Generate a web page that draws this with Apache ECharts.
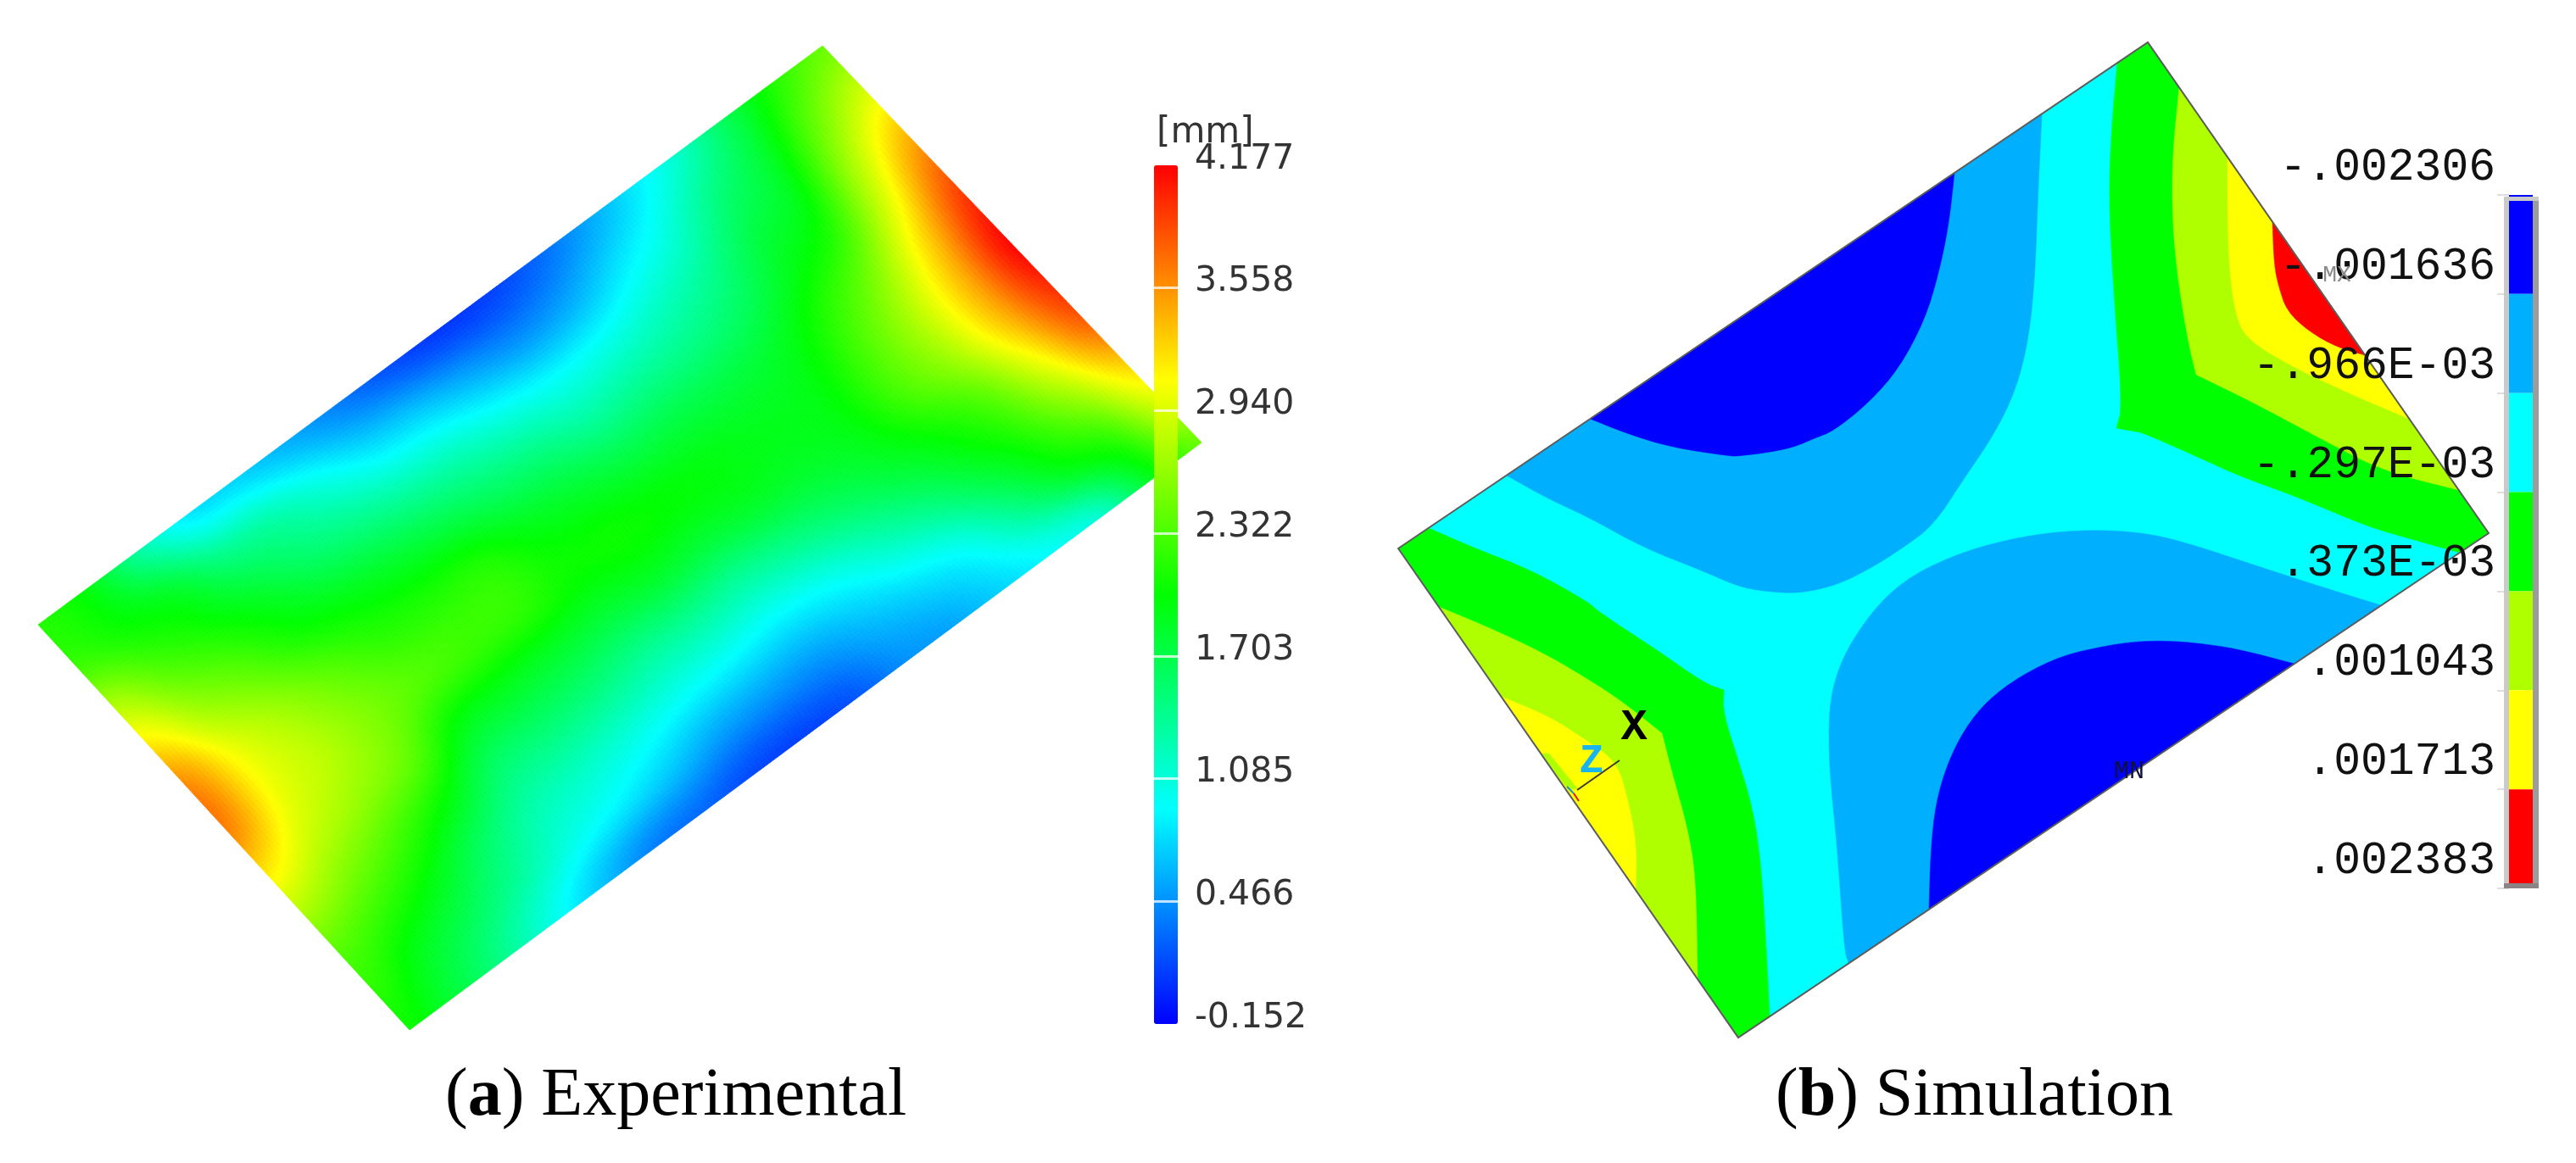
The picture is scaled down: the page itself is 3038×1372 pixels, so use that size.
<!DOCTYPE html>
<html>
<head>
<meta charset="utf-8">
<title>Experimental / Simulation</title>
<style>
	html, body { margin: 0; padding: 0; background: #fff; }
	#main { width: 3038px; height: 1372px; }
</style>
<script src="https://cdn.jsdelivr.net/npm/echarts@6/dist/echarts.min.js"></script>
</head>
<body>
<div id="main"></div>
<script>
// (a) colour scale labels, low to high
var expTicks = ['-0.152', '0.466', '1.085', '1.703', '2.322', '2.940', '3.558', '4.177'];
var expMin = -0.152;
var expMax = 4.177;
var expPalette = ['#0000ff', '#00ffff', '#00ff00', '#ffff00', '#ff0000'];

// (a) plate corners in page units
var expCorners = { left: [45, 737], top: [970, 54], bottom: [483, 1215], right: [1417, 522] };

// (a) displacement [mm]: one row per step along the long edge
// (left short edge -> right short edge), each row runs across the plate
var expColumns = [
	[2.15, 2.25, 2.75, 3.20, 3.60, 3.65, 3.25, 2.80, 2.40, 2.20, 2.05],
	[1.95, 2.05, 2.35, 2.70, 3.02, 3.05, 2.88, 2.55, 2.20, 1.90, 1.75],
	[1.35, 1.85, 2.10, 2.40, 2.70, 2.80, 2.65, 2.30, 1.95, 1.65, 1.40],
	[0.85, 1.45, 1.85, 2.10, 2.42, 2.55, 2.42, 2.00, 1.60, 1.35, 1.00],
	[0.75, 1.30, 1.60, 1.95, 2.20, 2.35, 1.98, 1.60, 1.30, 1.05, 0.65],
	[0.60, 1.05, 1.45, 1.85, 2.15, 2.25, 1.90, 1.55, 1.20, 0.88, 0.38],
	[0.40, 0.80, 1.30, 1.75, 2.15, 2.20, 1.85, 1.50, 1.10, 0.72, 0.28],
	[0.20, 0.70, 1.20, 1.60, 1.95, 2.05, 1.80, 1.40, 1.00, 0.55, 0.15],
	[0.08, 0.55, 1.05, 1.50, 1.85, 2.05, 1.85, 1.40, 0.95, 0.50, 0.12],
	[0.10, 0.45, 0.95, 1.35, 1.75, 2.00, 1.80, 1.35, 0.90, 0.50, 0.20],
	[0.25, 0.55, 1.00, 1.40, 1.75, 1.95, 1.85, 1.45, 0.98, 0.65, 0.45],
	[0.50, 0.80, 1.15, 1.45, 1.75, 1.90, 1.85, 1.60, 1.20, 0.80, 0.55],
	[0.80, 1.05, 1.35, 1.60, 1.85, 1.95, 1.95, 1.80, 1.45, 0.98, 0.75],
	[1.15, 1.45, 1.70, 1.90, 2.15, 2.30, 2.30, 2.05, 1.80, 1.40, 0.95],
	[1.65, 1.80, 1.95, 2.20, 2.55, 2.75, 2.70, 2.40, 2.15, 1.85, 1.15],
	[2.15, 2.40, 2.70, 2.95, 3.25, 3.40, 3.35, 3.05, 2.65, 2.20, 1.90],
	[2.45, 2.85, 3.30, 3.70, 4.00, 4.15, 4.00, 3.75, 3.30, 2.90, 2.45]
];

// (b) legend labels and band colours, top to bottom
var simTicks = ['-.002306', '-.001636', '-.966E-03', '-.297E-03', '.373E-03', '.001043', '.001713', '.002383'];
var simColors = ['#0000ff', '#00b0ff', '#00ffff', '#00ff00', '#b0ff00', '#ffff00', '#ff0000'];

// (b) plate outline and contour regions, page units
var simPlate = [[1649, 647], [2533, 50], [2935, 629], [2050, 1224]];
var simLightBlueTop = [[1777, 561], [2408, 135], [2403, 242], [2400, 324], [2393, 397], [2378, 459], [2352, 512], [2316, 565], [2280, 620], [2243, 647], [2207, 670], [2167, 690], [2123, 700], [2083, 698], [2050, 692], [2007, 673], [1940, 647], [1873, 610], [1823, 587]];
var simBlueTop = [[1875, 494], [2305, 204], [2298, 267], [2286, 324], [2270, 377], [2240, 434], [2204, 475], [2163, 508], [2140, 517], [2117, 527], [2090, 533], [2051, 538], [2040, 538], [1973, 528], [1923, 513]];
var simLightBlueBottom = [[2180, 1136], [2175, 1120], [2167, 1003], [2157, 903], [2157, 837], [2165, 797], [2183, 757], [2217, 710], [2257, 677], [2317, 650], [2383, 633], [2450, 625], [2517, 627], [2569, 637], [2672, 671], [2740, 693], [2808, 714]];
var simBlueBottom = [[2275, 1072], [2277, 1003], [2283, 947], [2297, 900], [2317, 860], [2343, 827], [2383, 797], [2433, 773], [2483, 762], [2517, 757], [2550, 756], [2586, 758], [2637, 765], [2706, 783]];
var simGreenRight = [[2497, 74], [2533, 50], [2935, 629], [2901, 652], [2840, 635], [2792, 621], [2706, 585], [2637, 560], [2603, 544], [2526, 510], [2517, 509], [2496, 505], [2503, 479], [2492, 336], [2487, 234], [2490, 152]];
var simLimeRight = [[2570, 103], [2899, 578], [2809, 555], [2740, 519], [2654, 473], [2590, 442], [2581, 405], [2569, 334], [2562, 262], [2562, 184]];
var simYellowRight = [[2627, 186], [2841, 494], [2775, 466], [2706, 434], [2649, 400], [2636, 369], [2629, 316], [2627, 244]];
var simRed = [[2680, 262], [2789, 419], [2757, 410], [2723, 391], [2697, 367], [2687, 337], [2682, 312]];
var simGreenLeft = [[1685, 623], [1649, 647], [2050, 1224], [2087, 1199], [2083, 1120], [2077, 1020], [2067, 953], [2050, 897], [2032, 841], [2033, 814], [2010, 806], [1953, 766], [1887, 723], [1873, 710], [1807, 673], [1740, 647]];
var simLimeLeft = [[1697, 716], [2002, 1155], [2000, 1035], [1990, 976], [1973, 916], [1960, 865], [1920, 833], [1887, 810], [1820, 770], [1753, 739]];
var simYellowLeft = [[1771, 822], [1929, 1050], [1930, 995], [1920, 944], [1907, 899], [1870, 873], [1827, 845]];
var simLimeSliver = [[1817, 889], [1850, 932], [1860, 930], [1827, 889]];

// (b) small triad at the corner and the node labels
var simLines = [
	{ color: '#3a3a3a', points: [[1860, 932], [1910, 897]] },
	{ color: '#e01010', points: [[1856, 936], [1862, 945]] },
	{ color: '#1a90d0', points: [[1848, 928], [1856, 936]] }
];
var simNotes = [
	{ text: 'X', pos: [1927, 859], color: '#000', font: 'bold 52px "Liberation Mono"' },
	{ text: 'Z', pos: [1877, 899], color: '#18b4f0', font: 'bold 48px "Liberation Mono"' },
	{ text: 'MX', pos: [2756, 325], color: '#8a8a8a', font: '28px "Liberation Mono"' },
	{ text: 'MN', pos: [2511, 910], color: '#10103c', font: '30px "Liberation Mono"' }
];

// sharp: vertices that stay corners, the rest of a contour is rounded when drawn
var simRegions = [
	{ color: simColors[2], points: simPlate, sharp: [0, 1, 2, 3] },
	{ color: simColors[1], points: simLightBlueTop, sharp: [0, 1] },
	{ color: simColors[0], points: simBlueTop, sharp: [0, 1] },
	{ color: simColors[1], points: simLightBlueBottom, sharp: [0, 16] },
	{ color: simColors[0], points: simBlueBottom, sharp: [0, 13] },
	{ color: simColors[3], points: simGreenRight, sharp: [0, 1, 2, 3, 11] },
	{ color: simColors[4], points: simLimeRight, sharp: [0, 1, 5] },
	{ color: simColors[5], points: simYellowRight, sharp: [0, 1] },
	{ color: simColors[6], points: simRed, sharp: [0, 1] },
	{ color: simColors[3], points: simGreenLeft, sharp: [0, 1, 2, 3, 9] },
	{ color: simColors[4], points: simLimeLeft, sharp: [0, 1, 5] },
	{ color: simColors[5], points: simYellowLeft, sharp: [0, 1, 5] },
	{ color: simColors[4], points: simLimeSliver, sharp: [0, 1, 2, 3] },
	{ color: null, points: simPlate, sharp: [0, 1, 2, 3] }
];

var myChart = echarts.init(document.getElementById('main'));

// 板内每格再细分，颜色不出现台阶
var SUB = 14;

function clampIndex(n, max) {
	return Math.max(0, Math.min(max, n));
}

function catmull(a, b, c, d, t) {
	return b + 0.5 * t * (c - a + t * (2 * a - 5 * b + 4 * c - d + t * (3 * (b - c) + d - a)));
}

// value at a fractional position of the read grid
function expValueAt(i, j, s, t) {
	var rows = [];
	for (var k = -1; k <= 2; k++) {
		var col = expColumns[clampIndex(i + k, expColumns.length - 1)];
		var last = col.length - 1;
		rows.push(catmull(col[clampIndex(j - 1, last)], col[clampIndex(j, last)], col[clampIndex(j + 1, last)], col[clampIndex(j + 2, last)], t));
	}
	return catmull(rows[0], rows[1], rows[2], rows[3], s);
}

function expColorAt(value) {
	var t = (value - expMin) / (expMax - expMin);
	return echarts.color.lerp(Math.max(0, Math.min(1, t)), expPalette);
}

function expPoint(u, v) {
	var c = expCorners;
	return [
		(1 - u) * (1 - v) * c.left[0] + u * (1 - v) * c.top[0] + (1 - u) * v * c.bottom[0] + u * v * c.right[0],
		(1 - u) * (1 - v) * c.left[1] + u * (1 - v) * c.top[1] + (1 - u) * v * c.bottom[1] + u * v * c.right[1]
	];
}

function renderExpCell(params, api) {
	var i = api.value(0);
	var j = api.value(1);
	var nu = expColumns.length - 1;
	var nv = expColumns[0].length - 1;
	if (i >= nu || j >= nv) {
		return;
	}
	var children = [];
	for (var a = 0; a < SUB; a++) {
		for (var b = 0; b < SUB; b++) {
			var u0 = (i + a / SUB) / nu;
			var u1 = (i + (a + 1) / SUB) / nu;
			var v0 = (j + b / SUB) / nv;
			var v1 = (j + (b + 1) / SUB) / nv;
			var color = expColorAt(expValueAt(i, j, (a + 0.5) / SUB, (b + 0.5) / SUB));
			children.push({
				type: 'polygon',
				silent: true,
				shape: { points: [api.coord(expPoint(u0, v0)), api.coord(expPoint(u1, v0)), api.coord(expPoint(u1, v1)), api.coord(expPoint(u0, v1))] },
				style: { fill: color, stroke: color, lineWidth: 0.8 }
			});
		}
	}
	return { type: 'group', children: children };
}

// 等值线圆角：角点重复一次就不会被切掉
function roundContour(region) {
	var pts = [];
	region.points.forEach(function (p, i) {
		pts.push(p);
		if (region.sharp.indexOf(i) >= 0) {
			pts.push(p);
		}
	});
	for (var pass = 0; pass < 2; pass++) {
		var next = [];
		pts.forEach(function (p, i) {
			var q = pts[(i + 1) % pts.length];
			next.push([0.75 * p[0] + 0.25 * q[0], 0.75 * p[1] + 0.25 * q[1]]);
			next.push([0.25 * p[0] + 0.75 * q[0], 0.25 * p[1] + 0.75 * q[1]]);
		});
		pts = next;
	}
	return pts;
}

function renderSimRegion(params, api) {
	var region = simRegions[params.dataIndex];
	var points = region.color ? roundContour(region) : region.points;
	return {
		type: 'polygon',
		silent: true,
		shape: { points: points.map(function (p) { return api.coord(p); }) },
		style: region.color
			? { fill: region.color, stroke: region.color, lineWidth: 0.5 }
			: { fill: 'none', stroke: '#5c5c5c', lineWidth: 2 }
	};
}

function renderSimLine(params, api) {
	var line = simLines[params.dataIndex];
	return {
		type: 'polyline',
		silent: true,
		shape: { points: line.points.map(function (p) { return api.coord(p); }) },
		style: { fill: 'none', stroke: line.color, lineWidth: 2 }
	};
}

function renderSimNote(params, api) {
	var note = simNotes[params.dataIndex];
	var p = api.coord(note.pos);
	return {
		type: 'text',
		silent: true,
		x: p[0],
		y: p[1],
		style: { text: note.text, fill: note.color, font: note.font, align: 'center', verticalAlign: 'middle' }
	};
}

function renderSimBand(params, api) {
	var start = api.coord([0, api.value(1)]);
	var end = api.coord([1, api.value(1) + 1]);
	return {
		type: 'rect',
		silent: true,
		shape: { x: start[0], y: start[1], width: end[0] - start[0], height: end[1] - start[1] },
		style: { fill: simColors[params.dataIndex] }
	};
}

// read grid as [i, j, value]
var expData = [];
expColumns.forEach(function (col, i) {
	col.forEach(function (value, j) {
		expData.push([i, j, value]);
	});
});

function captionStyle() {
	return {
		fontFamily: 'Liberation Serif',
		fontSize: 80,
		fontWeight: 'normal',
		color: '#000',
		rich: {
			r: { fontFamily: 'Liberation Serif', fontSize: 80, color: '#000' },
			b: { fontFamily: 'Liberation Serif', fontSize: 80, fontWeight: 'bold', color: '#000' }
		}
	};
}

var option = {
	animation: false,
	backgroundColor: '#fff',
	title: [
		{ text: '{r|(}{b|a}{r|) Experimental}', left: 525, top: 1254, padding: 0, textStyle: captionStyle() },
		{ text: '{r|(}{b|b}{r|) Simulation}', left: 2094, top: 1254, padding: 0, textStyle: captionStyle() },
		{ text: '[mm]', left: 1364, top: 136, padding: 0, textStyle: { fontFamily: 'DejaVu Sans', fontSize: 42, fontWeight: 'normal', color: '#333' } }
	],
	grid: [
		{ left: 0, top: 0, width: 3038, height: 1372 },
		// 左侧色标
		{ left: 1361, top: 195, width: 28, height: 1013 },
		// 右侧色标
		{ left: 2959, top: 230, width: 28, height: 818 }
	],
	xAxis: [
		{ gridIndex: 0, type: 'value', min: 0, max: 3038, show: false },
		{ gridIndex: 1, type: 'value', min: 0, max: 1, show: false },
		{ gridIndex: 2, type: 'value', min: 0, max: 1, show: false }
	],
	yAxis: [
		{ gridIndex: 0, type: 'value', min: 0, max: 1372, inverse: true, show: false },
		{
			gridIndex: 1,
			type: 'category',
			position: 'right',
			boundaryGap: false,
			data: expTicks,
			z: 6,
			axisLine: { show: false },
			axisTick: { show: false },
			// 色标上的白色刻度
			splitLine: {
				show: true,
				interval: function (index) { return index > 0 && index < expTicks.length - 1; },
				lineStyle: { color: 'rgba(255,255,255,.75)', width: 3 }
			},
			axisLabel: {
				interval: 0,
				margin: 20,
				verticalAlign: 'bottom',
				lineHeight: 14,
				fontFamily: 'DejaVu Sans',
				fontSize: 41,
				color: '#333'
			}
		},
		{
			gridIndex: 2,
			type: 'category',
			position: 'left',
			inverse: true,
			boundaryGap: false,
			data: simTicks,
			z: 6,
			axisLine: { show: false },
			splitLine: { show: false },
			axisTick: { length: 14, lineStyle: { color: '#dedede', width: 2 } },
			axisLabel: {
				interval: 0,
				margin: 16,
				verticalAlign: 'bottom',
				lineHeight: 64,
				fontFamily: 'Liberation Mono',
				fontSize: 53,
				color: '#111'
			}
		}
	],
	visualMap: [
		{
			type: 'continuous',
			seriesIndex: 0,
			dimension: 2,
			min: expMin,
			max: expMax,
			left: 1361,
			top: 195,
			padding: 0,
			itemWidth: 28,
			itemHeight: 1013,
			calculable: false,
			hoverLink: false,
			showLabel: false,
			text: null,
			inRange: { color: expPalette }
		}
	],
	// 右侧色标的灰色边框
	graphic: [
		{ type: 'rect', z: 8, silent: true, shape: { x: 2953, y: 232, width: 6, height: 816 }, style: { fill: '#cacaca' } },
		{ type: 'rect', z: 8, silent: true, shape: { x: 2987, y: 232, width: 7, height: 816 }, style: { fill: '#9c9c9c' } },
		{ type: 'rect', z: 8, silent: true, shape: { x: 2953, y: 232, width: 41, height: 5 }, style: { fill: '#cacaca' } },
		{ type: 'rect', z: 8, silent: true, shape: { x: 2953, y: 1042, width: 41, height: 6 }, style: { fill: '#8c8484' } }
	],
	series: [
		{
			type: 'custom',
			name: 'Experimental',
			xAxisIndex: 0,
			yAxisIndex: 0,
			z: 2,
			encode: { x: 0, y: 1 },
			renderItem: renderExpCell,
			data: expData
		},
		{
			type: 'custom',
			name: 'Simulation',
			xAxisIndex: 0,
			yAxisIndex: 0,
			z: 2,
			encode: { x: 0, y: 1 },
			renderItem: renderSimRegion,
			data: simRegions.map(function (r) { return r.points[0]; })
		},
		{
			type: 'custom',
			name: 'Triad',
			xAxisIndex: 0,
			yAxisIndex: 0,
			z: 3,
			encode: { x: 0, y: 1 },
			renderItem: renderSimLine,
			data: simLines.map(function (l) { return l.points[0]; })
		},
		{
			type: 'custom',
			name: 'Notes',
			xAxisIndex: 0,
			yAxisIndex: 0,
			z: 7,
			encode: { x: 0, y: 1 },
			renderItem: renderSimNote,
			data: simNotes.map(function (n) { return n.pos; })
		},
		{
			type: 'custom',
			name: 'Legend',
			xAxisIndex: 2,
			yAxisIndex: 2,
			z: 2,
			encode: { x: 0, y: 1 },
			renderItem: renderSimBand,
			data: simColors.map(function (c, i) { return [0, i]; })
		}
	]
};

myChart.setOption(option);
window.addEventListener('resize', function () {
	myChart.resize();
});
</script>
</body>
</html>
